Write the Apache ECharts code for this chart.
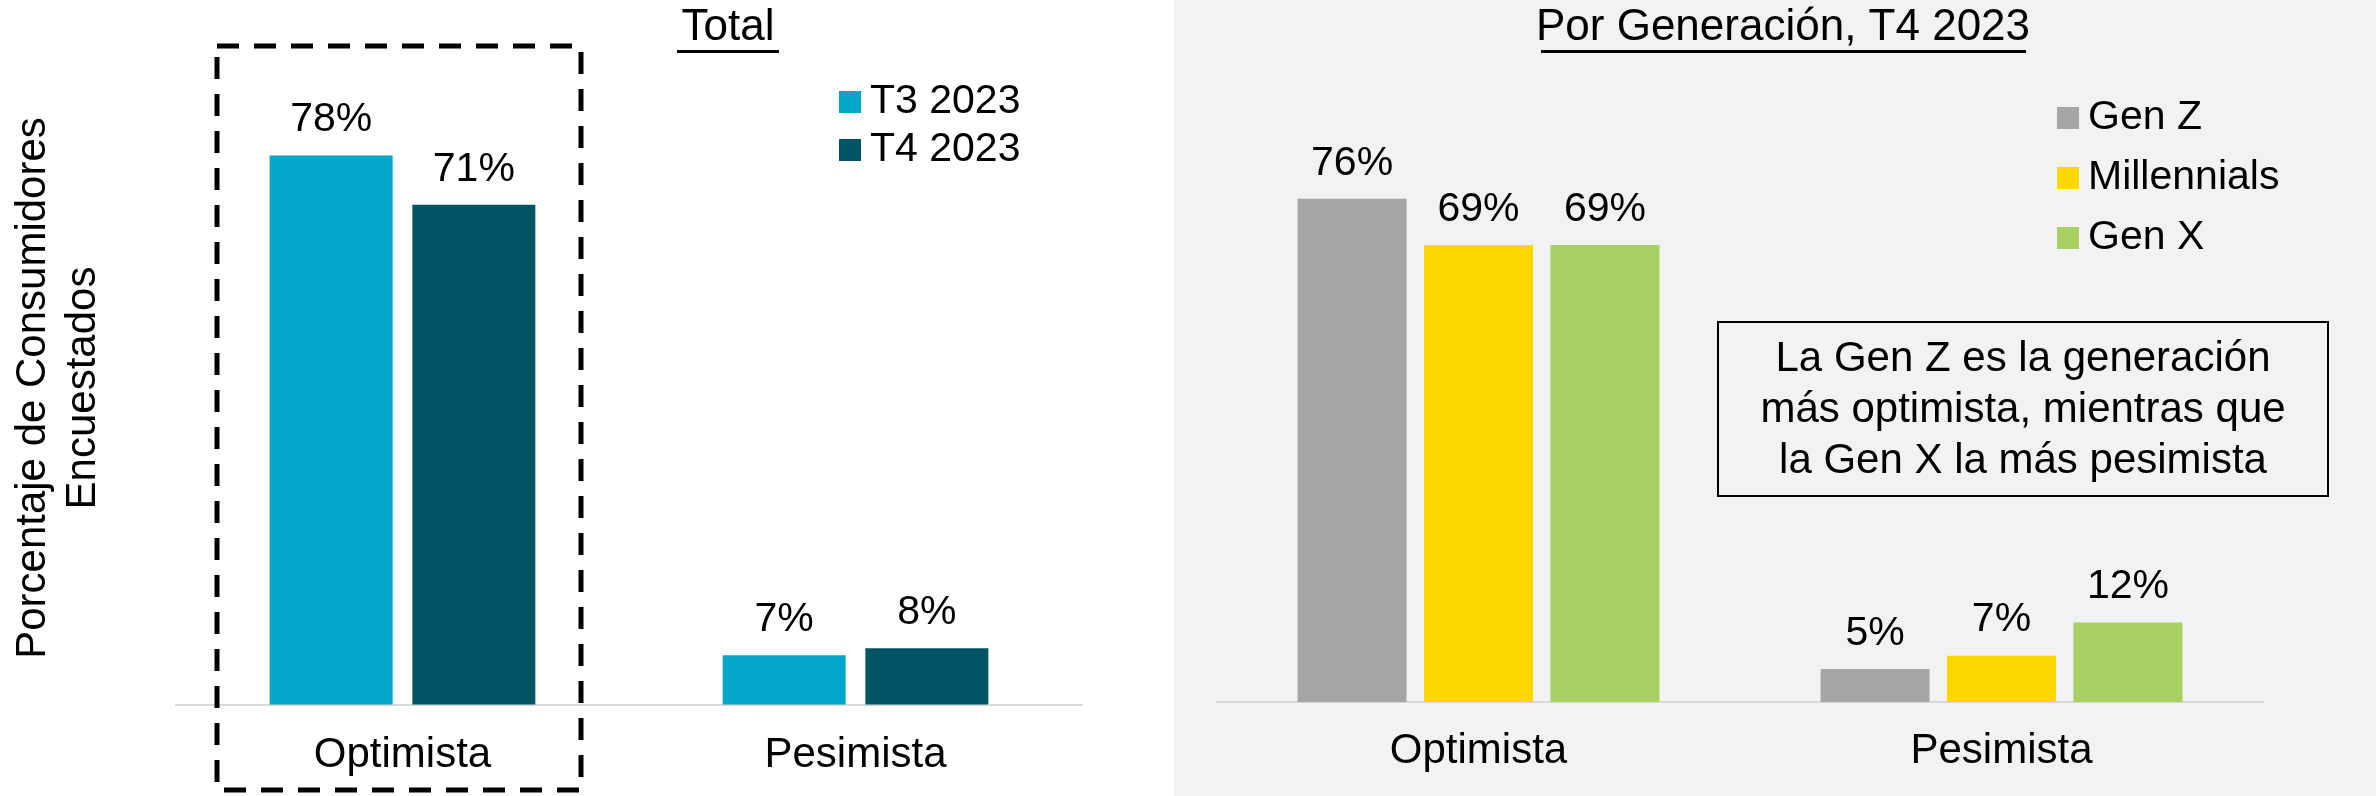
<!DOCTYPE html>
<html>
<head>
<meta charset="utf-8">
<script src="https://cdn.jsdelivr.net/npm/echarts@6/dist/echarts.min.js"></script>
<style>
  html, body { margin: 0; padding: 0; background: #fff; }
  #chart { width: 2376px; height: 796px; }
</style>
</head>
<body>
<div id="chart"></div>
<script>
// datos
var categories = ['Optimista', 'Pesimista'];
var t3 = [78, 7];
var t4 = [71, 8];
var genZ = [76, 5];
var millennials = [69, 7];
var genX = [69, 12];

var FONT = '"Liberation Sans", Arial, sans-serif';

function barLabel() {
	return {
		show: true,
		position: 'top',
		distance: 15,
		formatter: '{c}%',
		color: '#000',
		fontSize: 41,
		fontFamily: FONT
	};
}

function catAxis(idx, margin) {
	return {
		type: 'category',
		gridIndex: idx,
		data: categories,
		axisTick: { show: false },
		axisLine: { lineStyle: { color: '#d9d9d9', width: 2 } },
		axisLabel: { color: '#000', fontSize: 42, fontFamily: FONT, margin: margin }
	};
}

function valAxis(idx) {
	return { type: 'value', gridIndex: idx, min: 0, max: 90, show: false, splitLine: { show: false } };
}

var myChart = echarts.init(document.getElementById('chart'));

var option = {
	backgroundColor: '#fff',
	animation: false,
	grid: [
		{ left: 176, right: 1294, top: 71, bottom: 91.5 },
		{ left: 1217, right: 113, top: 106, bottom: 94 }
	],
	xAxis: [catAxis(0, 30), catAxis(1, 28)],
	yAxis: [valAxis(0), valAxis(1)],
	legend: [
		{
			data: ['T3 2023', 'T4 2023'],
			orient: 'vertical',
			left: 834, top: 76,
			icon: 'rect', itemWidth: 22, itemHeight: 22, itemGap: 6,
			textStyle: { color: '#000', fontSize: 41, fontFamily: FONT, lineHeight: 42, padding: [0, 0, 0, 4] }
		},
		{
			data: ['Gen Z', 'Millennials', 'Gen X'],
			orient: 'vertical',
			left: 2052, top: 92,
			icon: 'rect', itemWidth: 22, itemHeight: 22, itemGap: 18,
			textStyle: { color: '#000', fontSize: 41, fontFamily: FONT, lineHeight: 42, padding: [0, 0, 0, 4] }
		}
	],
	graphic: [
		// fondo gris del panel derecho
		{ type: 'rect', z: -10, silent: true, shape: { x: 1174, y: 0, width: 1202, height: 796 }, style: { fill: '#f2f2f2' } },
		// titulos
		{ type: 'text', x: 728, y: 28, style: { text: 'Total', font: '44px ' + FONT, textAlign: 'center', textVerticalAlign: 'middle', fill: '#000' } },
		{ type: 'rect', shape: { x: 677, y: 50, width: 102, height: 3 }, style: { fill: '#000' } },
		{ type: 'text', x: 1783, y: 28, style: { text: 'Por Generación, T4 2023', font: '44px ' + FONT, textAlign: 'center', textVerticalAlign: 'middle', fill: '#000' } },
		{ type: 'rect', shape: { x: 1541, y: 50, width: 485, height: 3 }, style: { fill: '#000' } },
		// nombre del eje Y
		{ type: 'text', x: 58, y: 388, rotation: Math.PI / 2, style: { text: 'Porcentaje de Consumidores\nEncuestados', font: '42px ' + FONT, textAlign: 'center', textVerticalAlign: 'middle', lineHeight: 50, fill: '#000' } },
		// recuadro punteado
		{ type: 'rect', z: 10, shape: { x: 217, y: 46, width: 364, height: 744 }, style: { fill: 'none', stroke: '#000', lineWidth: 5, lineDash: [22, 15] } },
		// nota
		{ type: 'rect', shape: { x: 1718, y: 322, width: 610, height: 174 }, style: { fill: 'none', stroke: '#000', lineWidth: 2 } },
		{ type: 'text', x: 2023, y: 410, style: { text: 'La Gen Z es la generación\nmás optimista, mientras que\nla Gen X la más pesimista', font: '42px ' + FONT, textAlign: 'center', textVerticalAlign: 'middle', lineHeight: 51, fill: '#000' } }
	],
	series: [
		{ name: 'T3 2023', type: 'bar', xAxisIndex: 0, yAxisIndex: 0, data: t3, barWidth: 123, barGap: '16%', itemStyle: { color: '#02a6c9' }, label: barLabel() },
		{ name: 'T4 2023', type: 'bar', xAxisIndex: 0, yAxisIndex: 0, data: t4, barWidth: 123, barGap: '16%', itemStyle: { color: '#005565' }, label: barLabel() },
		{ name: 'Gen Z', type: 'bar', xAxisIndex: 1, yAxisIndex: 1, data: genZ, barWidth: 109, barGap: '16%', itemStyle: { color: '#a6a6a6' }, label: barLabel() },
		{ name: 'Millennials', type: 'bar', xAxisIndex: 1, yAxisIndex: 1, data: millennials, barWidth: 109, barGap: '16%', itemStyle: { color: '#ffd800' }, label: barLabel() },
		{ name: 'Gen X', type: 'bar', xAxisIndex: 1, yAxisIndex: 1, data: genX, barWidth: 109, barGap: '16%', itemStyle: { color: '#a9d063' }, label: barLabel() }
	]
};

myChart.setOption(option);
</script>
</body>
</html>
